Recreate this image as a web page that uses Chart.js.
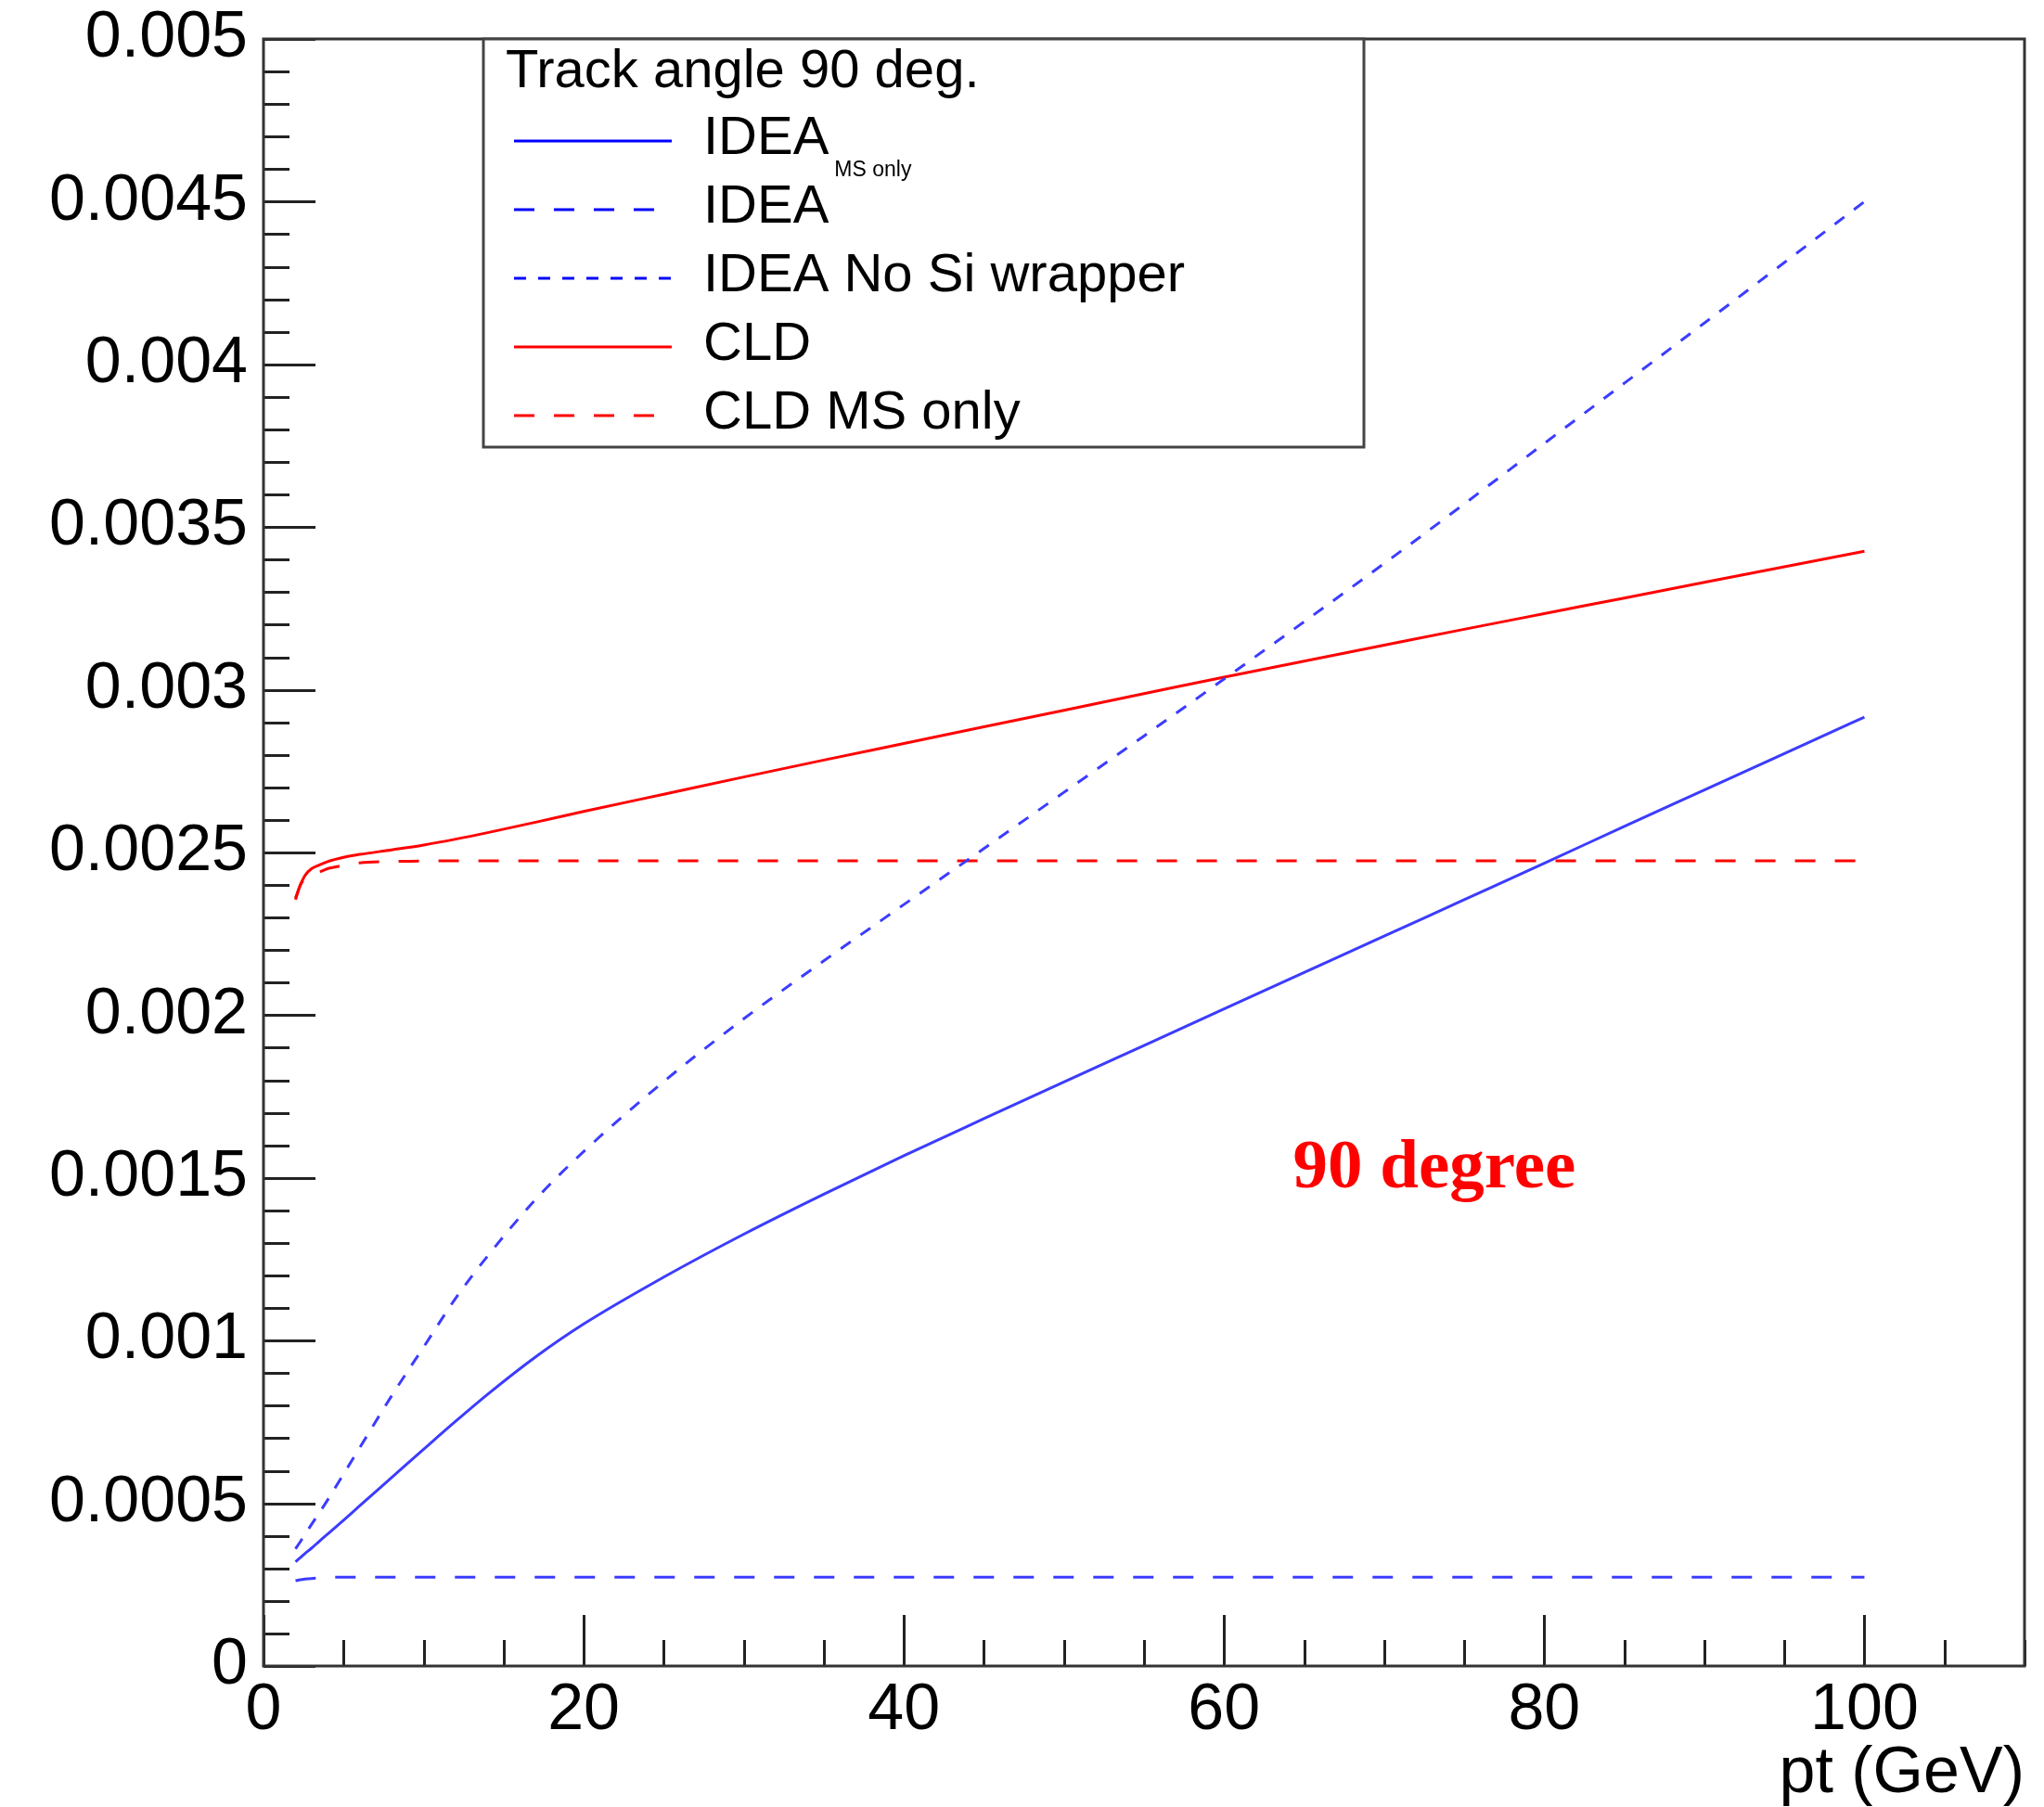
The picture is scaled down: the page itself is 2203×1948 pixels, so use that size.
<!DOCTYPE html>
<html><head><meta charset="utf-8">
<script src="https://cdn.jsdelivr.net/npm/chart.js@4.4.1/dist/chart.umd.min.js"></script>
<style>html,body{margin:0;padding:0;background:#fff;overflow:hidden}#wrap{width:2203px;height:1948px;position:relative}canvas{display:block}</style>
</head><body><div id="wrap"><canvas id="c" width="2203" height="1948"></canvas></div>
<script>
// ---- data ----
const pt = [2, 2.3, 2.6, 3, 3.5, 4, 5, 6, 8, 10, 12, 14, 17, 20, 25, 30, 35, 40, 45, 50, 55, 60, 65, 70, 75, 80, 85, 90, 95, 100];
const ideaVals = [0.00032, 0.000333, 0.000346, 0.000362, 0.000384, 0.000405, 0.000448, 0.000492, 0.000579, 0.000666, 0.000752, 0.000835, 0.00095, 0.001051, 0.001195, 0.001327, 0.00145, 0.001568, 0.001682, 0.001795, 0.001907, 0.002019, 0.002131, 0.002243, 0.002355, 0.002467, 0.00258, 0.002692, 0.002804, 0.002916];
const ideaMsVals = [0.000262, 0.000265, 0.000267, 0.000269, 0.000271, 0.000272, 0.000273, 0.000273, 0.000273, 0.000273, 0.000273, 0.000273, 0.000273, 0.000273, 0.000273, 0.000273, 0.000273, 0.000273, 0.000273, 0.000273, 0.000273, 0.000273, 0.000273, 0.000273, 0.000273, 0.000273, 0.000273, 0.000273, 0.000273, 0.000273];
const ideaNoSiVals = [0.00036, 0.000382, 0.000405, 0.000435, 0.000472, 0.00051, 0.00059, 0.00067, 0.00083, 0.00098, 0.00113, 0.00126, 0.001434, 0.001581, 0.001796, 0.001989, 0.002167, 0.00234, 0.002512, 0.002685, 0.002858, 0.003033, 0.003209, 0.003388, 0.003571, 0.003757, 0.003942, 0.004127, 0.004313, 0.0045];
const cldVals = [0.00236, 0.0024, 0.00243, 0.00245, 0.002462, 0.002472, 0.002485, 0.002494, 0.002508, 0.002523, 0.002541, 0.002561, 0.002593, 0.002626, 0.002679, 0.002732, 0.002784, 0.002835, 0.002886, 0.002937, 0.002988, 0.003039, 0.003088, 0.003137, 0.003186, 0.003234, 0.003282, 0.00333, 0.003378, 0.003426];
const cldMsVals = [0.002355, 0.0024, 0.00242, 0.00243, 0.00244, 0.00245, 0.00246, 0.002468, 0.002472, 0.002474, 0.002474, 0.002474, 0.002474, 0.002474, 0.002474, 0.002474, 0.002474, 0.002474, 0.002474, 0.002474, 0.002474, 0.002474, 0.002474, 0.002474, 0.002474, 0.002474, 0.002474, 0.002474, 0.002474, 0.002474];

const seriesLabels = ["IDEA", "IDEA", "IDEA No Si wrapper", "CLD", "CLD MS only"];
const legendSubscripts = ["MS only", "", "", "", ""];
const legendHeader = "Track angle 90 deg.";

const xTicks = [0, 20, 40, 60, 80, 100];
const xTickLabels = ["0", "20", "40", "60", "80", "100"];
const yTicks = [0, 0.0005, 0.001, 0.0015, 0.002, 0.0025, 0.003, 0.0035, 0.004, 0.0045, 0.005];
const yTickLabels = ["0", "0.0005", "0.001", "0.0015", "0.002", "0.0025", "0.003", "0.0035", "0.004", "0.0045", "0.005"];
const xTitle = "pt (GeV)";
const annotationText = "90 degree";
const annotationPos = [64.3, 0.00147];

// ---- styling ----
const FONT = '"Liberation Sans", Arial, Helvetica, sans-serif';
const BLUE = 'rgb(60,60,255)', RED = '#ff0000';
const LONG_DASH = [22, 21], SHORT_DASH = [13, 13];

const toXY = vals => vals.map((v, i) => ({x: pt[i], y: v}));
const mk = (label, vals, color, dash, legendColor) => ({
  label, data: toXY(vals), borderColor: color, borderWidth: 3, borderDash: dash,
  pointRadius: 0, fill: false, cubicInterpolationMode: 'monotone', legendColor
});

const datasets = [
  mk(seriesLabels[0], ideaVals, BLUE, [], '#0000ff'),
  mk(seriesLabels[1], ideaMsVals, BLUE, LONG_DASH, '#0000ff'),
  mk(seriesLabels[2], ideaNoSiVals, BLUE, SHORT_DASH, '#0000ff'),
  mk(seriesLabels[3], cldVals, RED, [], '#ff0000'),
  mk(seriesLabels[4], cldMsVals, RED, LONG_DASH, '#ff0000')
];

const decor = {
  id: 'decor',
  afterDatasetsDraw(chart) {
    const {ctx, chartArea: a, scales: {x, y}} = chart;
    ctx.save();
    // annotation
    ctx.font = 'bold 75px "Liberation Serif", "Times New Roman", serif';
    ctx.fillStyle = '#ff0000';
    ctx.textAlign = 'left'; ctx.textBaseline = 'alphabetic';
    ctx.fillText(annotationText, x.getPixelForValue(annotationPos[0]), y.getPixelForValue(annotationPos[1]));

    // ticks (inward)
    ctx.strokeStyle = '#222'; ctx.lineWidth = 3; ctx.setLineDash([]);
    for (let i = 0; i <= 22; i++) {
      const v = i * 5; if (v > x.max) break;
      const px = Math.round(x.getPixelForValue(v)) + 0.5;
      const len = (v % 20 === 0) ? 55 : 28;
      ctx.beginPath(); ctx.moveTo(px, a.bottom); ctx.lineTo(px, a.bottom - len); ctx.stroke();
    }
    for (let i = 0; i <= 50; i++) {
      const v = i * 0.0001;
      const py = Math.round(y.getPixelForValue(v)) + 0.5;
      const len = (i % 5 === 0) ? 56 : 28;
      ctx.beginPath(); ctx.moveTo(a.left, py); ctx.lineTo(a.left + len, py); ctx.stroke();
    }
    // frame
    ctx.strokeStyle = '#333'; ctx.lineWidth = 3;
    ctx.strokeRect(a.left, a.top, a.right - a.left, a.bottom - a.top);

    // legend box
    const L = a.left + 237, T = a.top, W = 949, H = 440;
    ctx.fillStyle = '#fff';
    ctx.fillRect(L, T, W, H);
    ctx.strokeStyle = '#444'; ctx.lineWidth = 3;
    ctx.strokeRect(L, T, W, H);
    ctx.fillStyle = '#000';
    ctx.font = '58px ' + FONT;
    ctx.textAlign = 'left'; ctx.textBaseline = 'alphabetic';
    ctx.fillText(legendHeader, L + 24, T + 52);
    chart.data.datasets.forEach((ds, i) => {
      const base = T + 124 + 74 * i;
      const ly = base - 14;
      ctx.strokeStyle = ds.legendColor; ctx.lineWidth = 3;
      ctx.setLineDash(ds.borderDash || []);
      ctx.beginPath(); ctx.moveTo(L + 33, ly); ctx.lineTo(L + 203, ly); ctx.stroke();
      ctx.setLineDash([]);
      ctx.fillStyle = '#000';
      ctx.font = '58px ' + FONT;
      ctx.fillText(ds.label, L + 237, base);
      if (legendSubscripts[i]) {
        const w = ctx.measureText(ds.label).width;
        ctx.font = '23px ' + FONT;
        ctx.fillText(legendSubscripts[i], L + 237 + w + 6, base + 24);
      }
    });
    ctx.restore();
  }
};

new Chart(document.getElementById('c'), {
  type: 'line',
  data: {datasets},
  options: {
    responsive: false, animation: false,
    layout: {padding: {left: 0, right: 21, top: 42, bottom: 0}},
    plugins: {legend: {display: false}, tooltip: {enabled: false}},
    scales: {
      x: {
        type: 'linear', min: 0, max: 110,
        grid: {display: false, drawTicks: false}, border: {display: false},
        afterBuildTicks: s => { s.ticks = xTicks.map(v => ({value: v})); },
        ticks: {font: {family: FONT, size: 70}, color: '#000', padding: 7, maxRotation: 0, autoSkip: false,
                callback: (v, i) => xTickLabels[i]},
        title: {display: true, text: xTitle, align: 'end', color: '#000',
                font: {family: FONT, size: 70, lineHeight: 1}, padding: {top: 0, bottom: 0}},
        afterFit: s => { s.height = 152; s.paddingLeft = 0; s.paddingRight = 0; }
      },
      y: {
        type: 'linear', min: 0, max: 0.005,
        grid: {display: false, drawTicks: false}, border: {display: false},
        afterBuildTicks: s => { s.ticks = yTicks.map(v => ({value: v})); },
        ticks: {font: {family: FONT, size: 70}, color: '#000', padding: 17, autoSkip: false,
                callback: (v, i) => yTickLabels[i]},
        afterFit: s => { s.width = 284; s.paddingTop = 0; s.paddingBottom = 0; }
      }
    }
  },
  plugins: [decor]
});
</script></body></html>
